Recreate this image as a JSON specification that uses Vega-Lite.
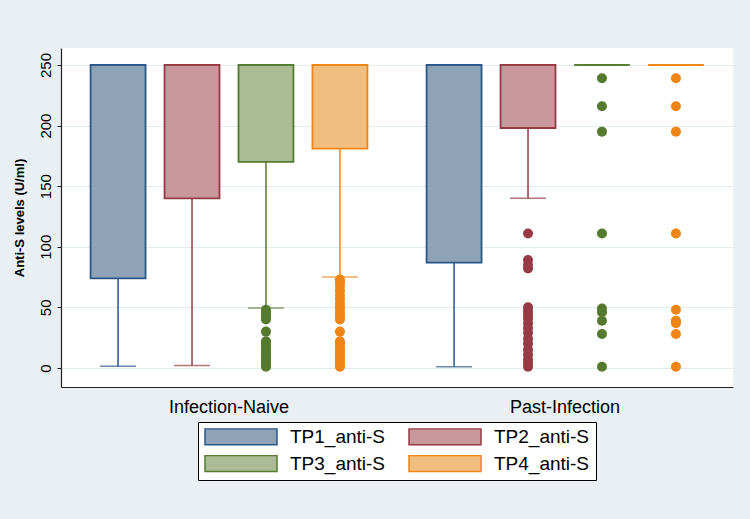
{
  "$schema": "https://vega.github.io/schema/vega-lite/v6.json",
  "width": 672,
  "height": 339,
  "autosize": {"type": "none"},
  "padding": {"left": 61, "top": 48, "right": 17, "bottom": 132},
  "background": "#e9eff2",
  "config": {
    "view": {"fill": "#ffffff", "stroke": null},
    "font": "Liberation Sans"
  },
  "datasets": {
    "boxes": [
      {"group": "Infection-Naive", "tp": "TP1_anti-S", "lower": 1.5, "q1": 74, "median": 250, "q3": 250, "upper": 250},
      {"group": "Infection-Naive", "tp": "TP2_anti-S", "lower": 2, "q1": 140, "median": 250, "q3": 250, "upper": 250},
      {"group": "Infection-Naive", "tp": "TP3_anti-S", "lower": 49.5, "q1": 170, "median": 250, "q3": 250, "upper": 250},
      {"group": "Infection-Naive", "tp": "TP4_anti-S", "lower": 75, "q1": 181, "median": 250, "q3": 250, "upper": 250},
      {"group": "Past-Infection", "tp": "TP1_anti-S", "lower": 1, "q1": 87, "median": 250, "q3": 250, "upper": 250},
      {"group": "Past-Infection", "tp": "TP2_anti-S", "lower": 140, "q1": 198, "median": 250, "q3": 250, "upper": 250},
      {"group": "Past-Infection", "tp": "TP3_anti-S", "lower": 250, "q1": 250, "median": 250, "q3": 250, "upper": 250},
      {"group": "Past-Infection", "tp": "TP4_anti-S", "lower": 250, "q1": 250, "median": 250, "q3": 250, "upper": 250}
    ],
    "outliers": [
      {"group": "Infection-Naive", "tp": "TP3_anti-S", "value": 48},
      {"group": "Infection-Naive", "tp": "TP3_anti-S", "value": 46},
      {"group": "Infection-Naive", "tp": "TP3_anti-S", "value": 44},
      {"group": "Infection-Naive", "tp": "TP3_anti-S", "value": 42},
      {"group": "Infection-Naive", "tp": "TP3_anti-S", "value": 40},
      {"group": "Infection-Naive", "tp": "TP3_anti-S", "value": 30},
      {"group": "Infection-Naive", "tp": "TP3_anti-S", "value": 22},
      {"group": "Infection-Naive", "tp": "TP3_anti-S", "value": 20},
      {"group": "Infection-Naive", "tp": "TP3_anti-S", "value": 17},
      {"group": "Infection-Naive", "tp": "TP3_anti-S", "value": 15},
      {"group": "Infection-Naive", "tp": "TP3_anti-S", "value": 13},
      {"group": "Infection-Naive", "tp": "TP3_anti-S", "value": 11},
      {"group": "Infection-Naive", "tp": "TP3_anti-S", "value": 9},
      {"group": "Infection-Naive", "tp": "TP3_anti-S", "value": 7},
      {"group": "Infection-Naive", "tp": "TP3_anti-S", "value": 5},
      {"group": "Infection-Naive", "tp": "TP3_anti-S", "value": 3},
      {"group": "Infection-Naive", "tp": "TP3_anti-S", "value": 1},
      {"group": "Infection-Naive", "tp": "TP4_anti-S", "value": 73},
      {"group": "Infection-Naive", "tp": "TP4_anti-S", "value": 71},
      {"group": "Infection-Naive", "tp": "TP4_anti-S", "value": 68},
      {"group": "Infection-Naive", "tp": "TP4_anti-S", "value": 64},
      {"group": "Infection-Naive", "tp": "TP4_anti-S", "value": 60},
      {"group": "Infection-Naive", "tp": "TP4_anti-S", "value": 57},
      {"group": "Infection-Naive", "tp": "TP4_anti-S", "value": 53},
      {"group": "Infection-Naive", "tp": "TP4_anti-S", "value": 50},
      {"group": "Infection-Naive", "tp": "TP4_anti-S", "value": 47},
      {"group": "Infection-Naive", "tp": "TP4_anti-S", "value": 44},
      {"group": "Infection-Naive", "tp": "TP4_anti-S", "value": 42},
      {"group": "Infection-Naive", "tp": "TP4_anti-S", "value": 40},
      {"group": "Infection-Naive", "tp": "TP4_anti-S", "value": 30},
      {"group": "Infection-Naive", "tp": "TP4_anti-S", "value": 22},
      {"group": "Infection-Naive", "tp": "TP4_anti-S", "value": 20},
      {"group": "Infection-Naive", "tp": "TP4_anti-S", "value": 17},
      {"group": "Infection-Naive", "tp": "TP4_anti-S", "value": 15},
      {"group": "Infection-Naive", "tp": "TP4_anti-S", "value": 13},
      {"group": "Infection-Naive", "tp": "TP4_anti-S", "value": 11},
      {"group": "Infection-Naive", "tp": "TP4_anti-S", "value": 9},
      {"group": "Infection-Naive", "tp": "TP4_anti-S", "value": 7},
      {"group": "Infection-Naive", "tp": "TP4_anti-S", "value": 5},
      {"group": "Infection-Naive", "tp": "TP4_anti-S", "value": 3},
      {"group": "Infection-Naive", "tp": "TP4_anti-S", "value": 1},
      {"group": "Past-Infection", "tp": "TP2_anti-S", "value": 111},
      {"group": "Past-Infection", "tp": "TP2_anti-S", "value": 89},
      {"group": "Past-Infection", "tp": "TP2_anti-S", "value": 85},
      {"group": "Past-Infection", "tp": "TP2_anti-S", "value": 82},
      {"group": "Past-Infection", "tp": "TP2_anti-S", "value": 50},
      {"group": "Past-Infection", "tp": "TP2_anti-S", "value": 47},
      {"group": "Past-Infection", "tp": "TP2_anti-S", "value": 44},
      {"group": "Past-Infection", "tp": "TP2_anti-S", "value": 41},
      {"group": "Past-Infection", "tp": "TP2_anti-S", "value": 37},
      {"group": "Past-Infection", "tp": "TP2_anti-S", "value": 33},
      {"group": "Past-Infection", "tp": "TP2_anti-S", "value": 29},
      {"group": "Past-Infection", "tp": "TP2_anti-S", "value": 24},
      {"group": "Past-Infection", "tp": "TP2_anti-S", "value": 20},
      {"group": "Past-Infection", "tp": "TP2_anti-S", "value": 15},
      {"group": "Past-Infection", "tp": "TP2_anti-S", "value": 11},
      {"group": "Past-Infection", "tp": "TP2_anti-S", "value": 7},
      {"group": "Past-Infection", "tp": "TP2_anti-S", "value": 4},
      {"group": "Past-Infection", "tp": "TP2_anti-S", "value": 1},
      {"group": "Past-Infection", "tp": "TP3_anti-S", "value": 239},
      {"group": "Past-Infection", "tp": "TP3_anti-S", "value": 216},
      {"group": "Past-Infection", "tp": "TP3_anti-S", "value": 195},
      {"group": "Past-Infection", "tp": "TP3_anti-S", "value": 111},
      {"group": "Past-Infection", "tp": "TP3_anti-S", "value": 49},
      {"group": "Past-Infection", "tp": "TP3_anti-S", "value": 46},
      {"group": "Past-Infection", "tp": "TP3_anti-S", "value": 39},
      {"group": "Past-Infection", "tp": "TP3_anti-S", "value": 28},
      {"group": "Past-Infection", "tp": "TP3_anti-S", "value": 1},
      {"group": "Past-Infection", "tp": "TP4_anti-S", "value": 239},
      {"group": "Past-Infection", "tp": "TP4_anti-S", "value": 216},
      {"group": "Past-Infection", "tp": "TP4_anti-S", "value": 195},
      {"group": "Past-Infection", "tp": "TP4_anti-S", "value": 111},
      {"group": "Past-Infection", "tp": "TP4_anti-S", "value": 48},
      {"group": "Past-Infection", "tp": "TP4_anti-S", "value": 39},
      {"group": "Past-Infection", "tp": "TP4_anti-S", "value": 37},
      {"group": "Past-Infection", "tp": "TP4_anti-S", "value": 28},
      {"group": "Past-Infection", "tp": "TP4_anti-S", "value": 1}
    ]
  },
  "encoding": {
    "x": {
      "field": "group", "type": "nominal", "sort": ["Infection-Naive", "Past-Infection"],
      "scale": {"paddingInner": 0, "paddingOuter": 0},
      "axis": {"title": null, "labelAngle": 0, "ticks": false, "tickSize": 0, "labelPadding": 11, "labelFontSize": 18, "labelColor": "#000", "domainColor": "#222", "domainWidth": 1.2, "grid": false}
    },
    "xOffset": {
      "field": "tp", "type": "nominal", "sort": ["TP1_anti-S", "TP2_anti-S", "TP3_anti-S", "TP4_anti-S"],
      "scale": {"paddingInner": 0.257, "paddingOuter": 0.4}
    }
  },
  "layer": [
    {
      "data": {"name": "boxes"},
      "mark": {"type": "rule", "strokeWidth": 1.5},
      "encoding": {
        "y": {
          "field": "lower", "type": "quantitative",
          "scale": {"domain": [-15.7, 264], "nice": false, "zero": false},
          "axis": {
            "title": "Anti-S levels (U/ml)", "titleFontSize": 13, "titleFontWeight": "bold", "titleColor": "#000", "titlePadding": 12,
            "values": [0, 50, 100, 150, 200, 250], "labelAngle": 270, "labelAlign": "center", "labelBaseline": "bottom",
            "labelFontSize": 15, "labelColor": "#000", "labelPadding": 4, "tickSize": 4, "tickColor": "#222",
            "domainColor": "#222", "domainWidth": 1.2, "gridColor": "#e3ebef", "gridWidth": 1.2
          }
        },
        "y2": {"field": "q1"},
        "color": {
          "field": "tp", "type": "nominal", "legend": null,
          "scale": {"domain": ["TP4_anti-S", "TP3_anti-S", "TP2_anti-S", "TP1_anti-S"], "range": ["#ee8515", "#557a2f", "#963a44", "#2a5886"]}
        }
      }
    },
    {
      "data": {"name": "boxes"},
      "mark": {"type": "tick", "thickness": 1.5, "size": 36},
      "encoding": {
        "y": {"field": "lower", "type": "quantitative"},
        "color": {"field": "tp", "type": "nominal", "legend": null}
      }
    },
    {
      "data": {"name": "boxes"},
      "mark": {"type": "bar", "strokeWidth": 1.8},
      "encoding": {
        "y": {"field": "q1", "type": "quantitative"},
        "y2": {"field": "q3"},
        "fill": {
          "field": "tp", "type": "nominal", "title": null,
          "scale": {"domain": ["TP1_anti-S", "TP2_anti-S", "TP3_anti-S", "TP4_anti-S"], "range": ["#8ea3b8", "#c8989c", "#abbb96", "#f0bf80"]},
          "legend": {
            "orient": "none", "legendX": 137, "legendY": 374, "columns": 2, "direction": "horizontal",
            "strokeColor": "#000", "fillColor": "#fff", "padding": 6,
            "symbolType": "M-1,-0.22L1,-0.22L1,0.22L-1,0.22Z", "symbolSize": 5184, "symbolStrokeWidth": 1.5, "symbolOpacity": 1,
            "labelFontSize": 19, "labelColor": "#000", "labelOffset": 12, "columnPadding": 22, "rowPadding": 7, "clipHeight": 17
          }
        },
        "stroke": {
          "field": "tp", "type": "nominal", "title": null,
          "scale": {"domain": ["TP1_anti-S", "TP2_anti-S", "TP3_anti-S", "TP4_anti-S"], "range": ["#2a5886", "#963a44", "#557a2f", "#ee8515"]}
        }
      }
    },
    {
      "data": {"name": "boxes"},
      "mark": {"type": "tick", "thickness": 2, "size": 56},
      "encoding": {
        "y": {"field": "median", "type": "quantitative"},
        "color": {"field": "tp", "type": "nominal", "legend": null}
      }
    },
    {
      "data": {"name": "outliers"},
      "mark": {"type": "point", "filled": true, "size": 100, "opacity": 1, "strokeWidth": 0.6},
      "encoding": {
        "y": {"field": "value", "type": "quantitative"},
        "color": {"field": "tp", "type": "nominal", "legend": null}
      }
    }
  ]
}
